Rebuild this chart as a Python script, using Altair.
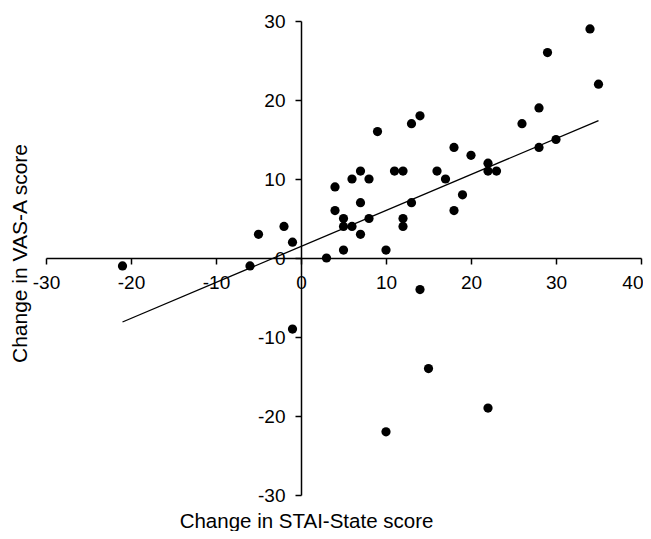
import altair as alt
import pandas as pd

stai = [34, 29, 35, 28, 26, 30, 28, 14, 13, 9, 18, 20, 22, 22, 23, 16, 17, 11, 12, 7,
        6, 8, 4, 4, 7, 13, 19, 18, 5, 8, 12, 5, 6, 12, 7, 5, 10, 3, -21, -6,
        -5, -2, -1, -1, 14, 15, 22, 10]
vas = [29, 26, 22, 19, 17, 15, 14, 18, 17, 16, 14, 13, 12, 11, 11, 11, 10, 11, 11, 11,
       10, 10, 9, 6, 7, 7, 8, 6, 5, 5, 5, 4, 4, 4, 3, 1, 1, 0, -1, -1,
       3, 4, 2, -9, -4, -14, -19, -22]

trend_x = [-21, 35]
trend_y = [-8.1, 17.4]

x_ticks = [-30, -20, -10, 0, 10, 20, 30, 40]
y_ticks = [-30, -20, -10, 0, 10, 20, 30]

pts = pd.DataFrame({"x": stai, "y": vas})
trend = pd.DataFrame({"x": trend_x, "y": trend_y})

W, H = 595, 474
FONT = "Liberation Sans"

xscale = alt.Scale(domain=[-30, 40], nice=False, zero=False)
yscale = alt.Scale(domain=[-30, 30], nice=False, zero=False)

x_axis = alt.Axis(
    values=x_ticks, orient="bottom", offset=-237, grid=False,
    title="Change in STAI-State score", titleX=260, titleY=269,
    titleAlign="center", titleBaseline="alphabetic", titleAngle=0,
    titleFontSize=20.5,
    labelFlush=False, labelPadding=9, labelExpr="datum.value + ''",
    labelAlign={"condition": {"test": "datum.value === 40", "value": "right"}, "value": "center"},
    labelOffset={"condition": {"test": "datum.value === 40", "value": 2}, "value": 0},
)
y_axis = alt.Axis(
    values=y_ticks, orient="left", offset=-255, grid=False,
    title="Change in VAS-A score", titleX=-275, titleY=232,
    titleAlign="center", titleBaseline="alphabetic", titleAngle=270,
    titleFontSize=21,
    labelFlush=False, labelPadding=10, labelExpr="datum.value + ''",
)

points = alt.Chart(pts).mark_circle(size=85, color="black", opacity=1).encode(
    x=alt.X("x:Q", scale=xscale, axis=x_axis),
    y=alt.Y("y:Q", scale=yscale, axis=y_axis),
)

line = alt.Chart(trend).mark_line(color="black", strokeWidth=1.3).encode(
    x=alt.X("x:Q", scale=xscale),
    y=alt.Y("y:Q", scale=yscale),
)

chart = alt.layer(line, points).properties(
    width=W, height=H,
    autosize=alt.AutoSizeParams(type="none"),
    padding={"left": 38, "top": 13, "right": 2, "bottom": 36},
).configure_view(stroke=None).configure_axis(
    domainColor="black", domainWidth=1.5,
    tickColor="black", tickWidth=1.5, tickSize=6,
    labelFont=FONT, labelFontSize=19, labelColor="black",
    titleFont=FONT, titleFontSize=20, titleColor="black", titleFontWeight="normal",
)

chart.save("out.html", embed_options={"renderer": "svg", "actions": False})
